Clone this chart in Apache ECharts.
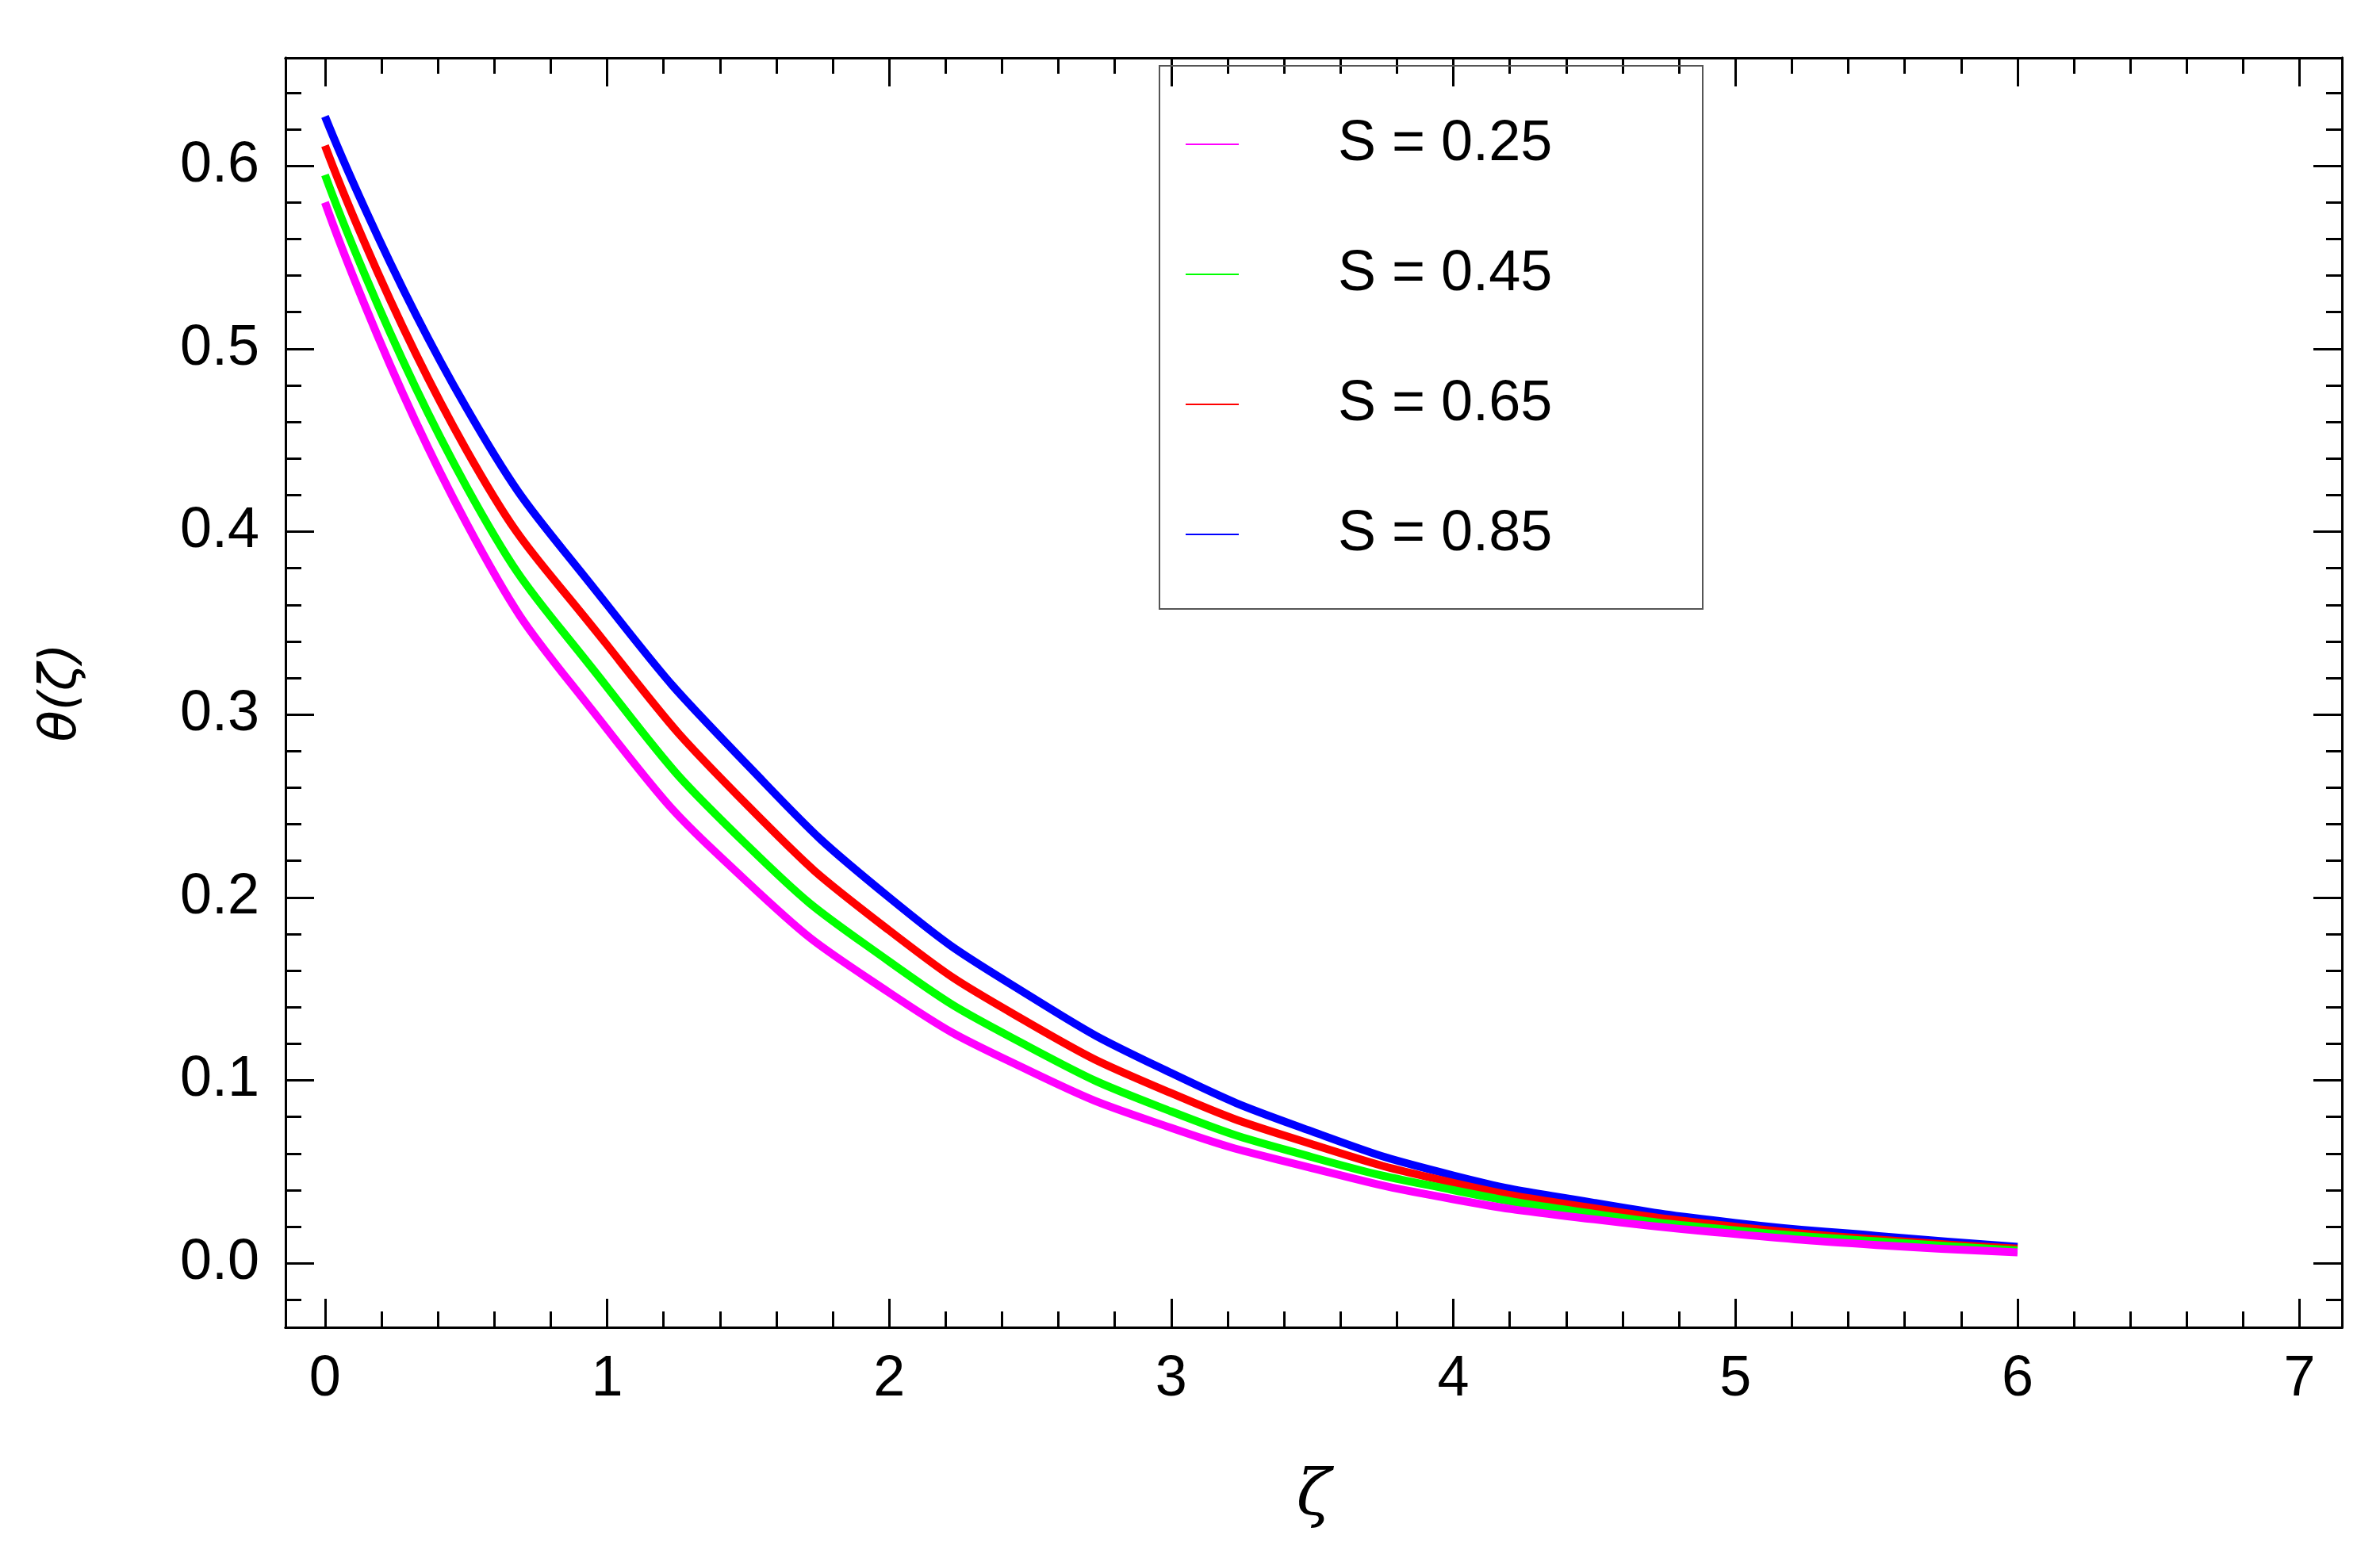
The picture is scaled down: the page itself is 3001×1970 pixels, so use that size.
<!DOCTYPE html>
<html><head><meta charset="utf-8">
<script src="https://cdn.jsdelivr.net/npm/echarts@6/dist/echarts.min.js"></script>
<style>html,body{margin:0;background:#fff}#c{width:3001px;height:1970px}</style>
</head><body><div id="c"></div>
<script>
const zeta = [0,0.5,1,1.5,2,2.5,3,3.5,4,4.5,5,5.5,6];
const s025 = [0.580,0.405,0.292,0.208,0.148,0.105,0.074,0.052,0.035,0.024,0.016,0.010,0.006];
const s045 = [0.595,0.425,0.315,0.228,0.165,0.118,0.083,0.058,0.040,0.027,0.018,0.012,0.007];
const s065 = [0.611,0.445,0.338,0.250,0.182,0.131,0.093,0.065,0.044,0.030,0.020,0.013,0.008];
const s085 = [0.627,0.468,0.360,0.272,0.200,0.146,0.104,0.072,0.048,0.033,0.022,0.015,0.009];
const names = ['S = 0.25','S = 0.45','S = 0.65','S = 0.85'];
const colors = ['#ff00ff','#00ff00','#ff0000','#0000ff'];
const xMajor = [0,1,2,3,4,5,6,7];
const yMajor = [0,0.1,0.2,0.3,0.4,0.5,0.6];
const xMinor=[]; for(let i=-0; i<=35; i++) xMinor.push(+(i*0.2).toFixed(2));
const yMinor=[]; for(let i=-1; i<=32; i++) yMinor.push(+(i*0.02).toFixed(2));
const F='Liberation Sans, Arial, sans-serif';
const lineS={color:'#000',width:3};
function xa(pos, vals, len, labels, extra){
  return Object.assign({type:'value',min:-0.14,max:7.15,position:pos,
    axisLine:{show:true,onZero:false,lineStyle:lineS},splitLine:{show:false},
    axisTick:{show:true,inside:true,length:len,customValues:vals,lineStyle:{color:'#000',width:3}},
    axisLabel:{show:labels,customValues:vals,fontSize:72,fontFamily:F,color:'#000',margin:30,formatter:v=>String(v)}},extra||{});
}
function ya(pos, vals, len, labels, extra){
  return Object.assign({type:'value',min:-0.035,max:0.659,position:pos,
    axisLine:{show:true,onZero:false,lineStyle:lineS},splitLine:{show:false},
    axisTick:{show:true,inside:true,length:len,customValues:vals,lineStyle:{color:'#000',width:3}},
    axisLabel:{show:labels,customValues:vals,fontSize:72,fontFamily:F,color:'#000',margin:33,formatter:v=>v.toFixed(1)}},extra||{});
}
const series=[s025,s045,s065,s085].map((d,i)=>({name:names[i],type:'line',smooth:true,symbol:'none',
  data:zeta.map((z,j)=>[z,d[j]]),lineStyle:{color:colors[i],width:10},itemStyle:{color:colors[i]},z:10-i}));
series.reverse();
const chart=echarts.init(document.getElementById('c'));
chart.setOption({
  animation:false,backgroundColor:'#fff',
  grid:{left:360,right:48,top:73,bottom:296},
  xAxis:[
    xa('bottom',xMajor,36,true,{name:'ζ',nameLocation:'middle',nameGap:175,nameTextStyle:{fontSize:80,fontStyle:'italic',fontFamily:'DejaVu Serif',color:'#000'}}),
    xa('bottom',xMinor,20,false),
    xa('top',xMajor,36,false),
    xa('top',xMinor,20,false)],
  yAxis:[
    ya('left',yMajor,36,true,{name:'θ(ζ)',nameLocation:'middle',nameGap:250,nameRotate:90,nameTextStyle:{fontSize:64,fontStyle:'italic',fontFamily:'DejaVu Sans',color:'#000'}}),
    ya('left',yMinor,20,false),
    ya('right',yMajor,36,false),
    ya('right',yMinor,20,false)],
  legend:{data:names,orient:'vertical',left:1490,top:141,itemWidth:67,itemHeight:2,itemGap:92,icon:'rect',
    textStyle:{fontSize:72,fontFamily:F,color:'#000',lineHeight:72,padding:[0,0,0,120]}},
  graphic:[{type:'rect',shape:{x:1462,y:83,width:685,height:685},style:{fill:'none',stroke:'#555',lineWidth:2},z:100}],
  series:series
});
</script></body></html>
